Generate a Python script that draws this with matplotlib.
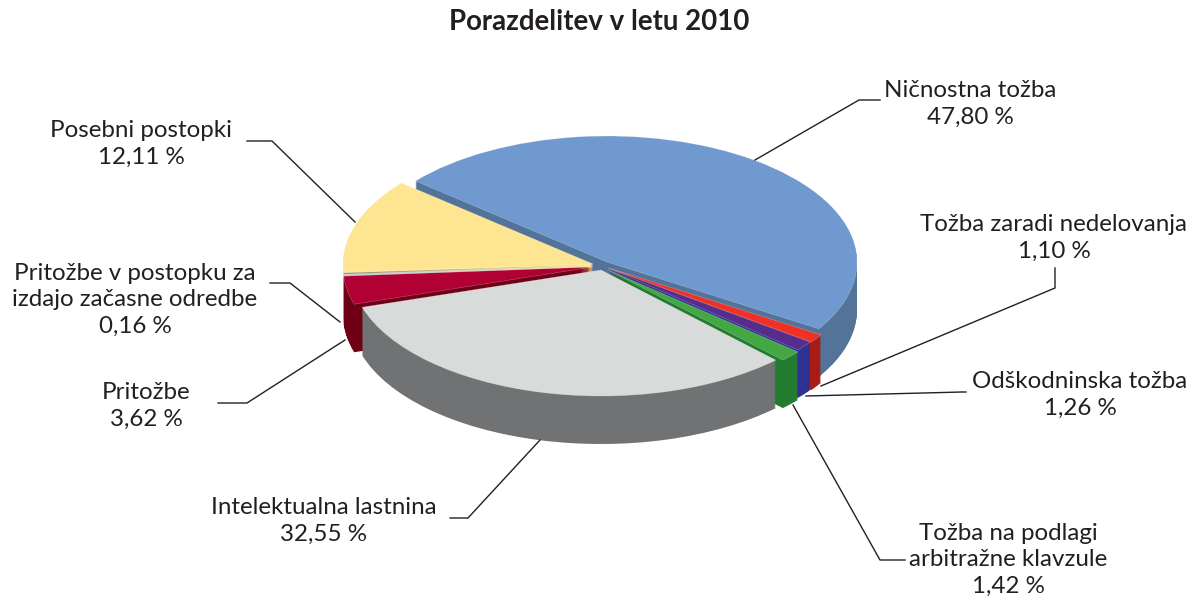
import matplotlib
matplotlib.use("Agg")
import matplotlib.pyplot as plt

plt.rcParams['font.family'] = ['Lato', 'DejaVu Sans']

# slices, clockwise from the start angle
values = [47.80, 1.10, 1.26, 1.42, 32.55, 3.62, 0.16, 12.11]
top_colors = ['#7099cf', '#ee3124', '#562c8c', '#43a843', '#d9dbda', '#b00034', '#94895f', '#fde591']
wall_colors = ['#537399', '#a91c15', '#2e3191', '#237b2f', '#717273', '#6f0016', '#bccde0', '#fde591']
# where each slice's tip sits, in pixels (the pie is pulled apart unevenly)
tips = [(607, 262), (609, 268), (608, 268), (608, 270), (601, 270), (593, 267), (593, 265), (593, 264)]

title = "Porazdelitev v letu 2010"
labels = ["Ničnostna tožba\n47,80 %", "Tožba zaradi nedelovanja\n1,10 %", "Odškodninska tožba\n1,26 %",
          "Tožba na podlagi\narbitražne klavzule\n1,42 %", "Intelektualna lastnina\n32,55 %", "Pritožbe\n3,62 %",
          "Pritožbe v postopku za\nizdajo začasne odredbe\n0,16 %", "Posebni postopki\n12,11 %"]
label_pos = [(970, 104), (1054, 238), (1080, 395), (1008, 560), (324, 521), (146, 406), (135, 300), (141, 144)]
leaders = [[(755, 160), (859, 100), (880, 100)],
           [(821, 386), (1055, 288), (1055, 268)],
           [(806, 396), (962, 392), (966, 392)],
           [(793, 405), (880, 560), (905, 560)],
           [(540, 440), (468, 518), (450, 518)],
           [(345, 340), (247, 403), (218, 403)],
           [(340, 322), (290, 283), (270, 283)],
           [(355, 222), (272, 141), (247, 141)]]

W, H = 1193, 600
cx, cy = 604, 265   # pie centre in pixels
rx, ry = 250, 126
depth = 48

fig = plt.figure(figsize=(W / 100, H / 100), dpi=100)
ax = fig.add_axes([0, 0, 1, 1])


def draw_layer(k, colors, props):
    wedges, _ = ax.pie(values, colors=colors, startangle=140, counterclock=False, wedgeprops=props)
    for w, (tx, ty) in zip(wedges, tips):
        w.set_center(((tx - cx) / rx, (cy - ty - k) / ry))


# stack of flat pies gives the thick side walls
for k in range(depth, 0, -1):
    draw_layer(k, wall_colors, {'linewidth': 0})
draw_layer(0, top_colors, {'linewidth': 0.4, 'edgecolor': '#ffffff55'})

ax.set_aspect('auto')
ax.set_xlim(-cx / rx, (W - cx) / rx)
ax.set_ylim((cy - H) / ry, cy / ry)
ax.axis('off')

# overlay in pixel coordinates for the text and leader lines
ov = fig.add_axes([0, 0, 1, 1])
ov.set_xlim(0, W)
ov.set_ylim(H, 0)
ov.axis('off')

for pts in leaders:
    ov.plot([p[0] for p in pts], [p[1] for p in pts], color='#231f20', lw=1.0)
for txt, (x, y) in zip(labels, label_pos):
    ov.text(x, y, txt, ha='center', va='center', fontsize=17.4, color='#231f20', linespacing=1.33)
ov.text(599, 22, title, ha='center', va='center', fontsize=19.9, fontweight='bold', color='#231f20')

fig.savefig("out.png", dpi=100)
